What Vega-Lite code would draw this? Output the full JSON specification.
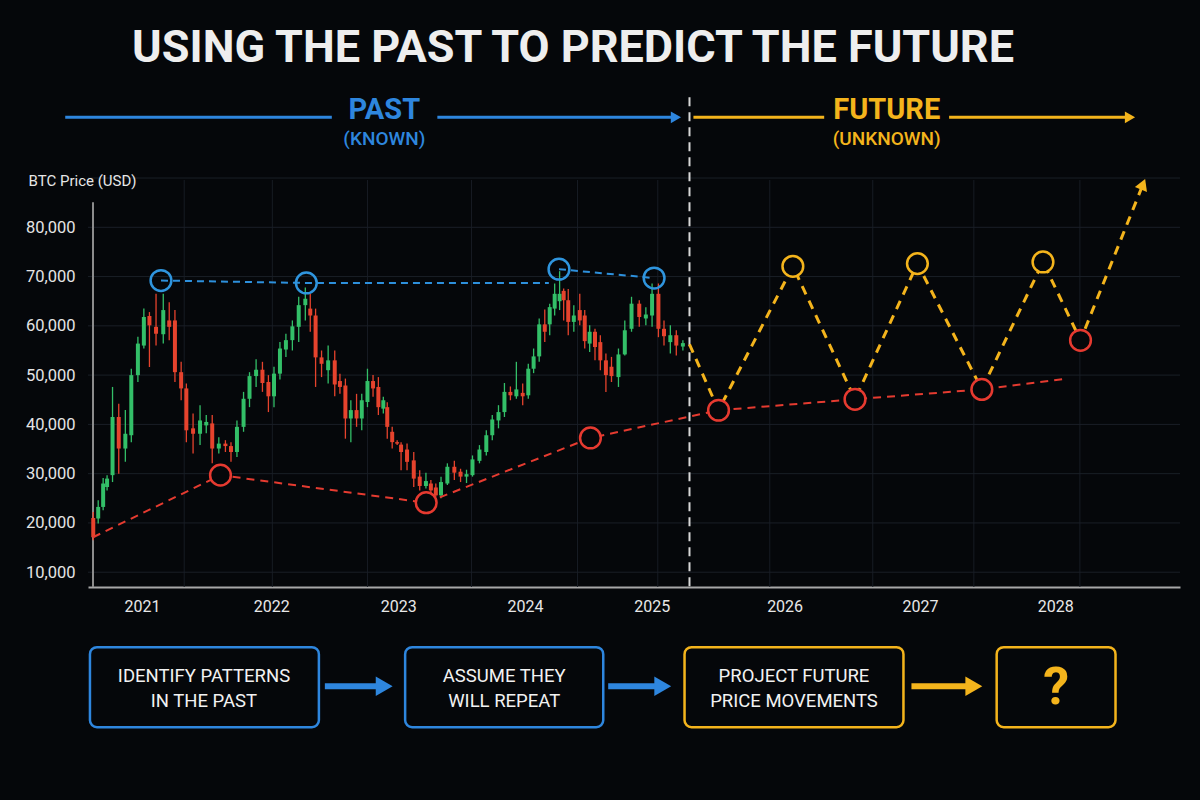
{
 "$schema": "https://vega.github.io/schema/vega-lite/v6.json",
 "width": 1092,
 "height": 407,
 "autosize": {"type": "none"},
 "padding": {"left": 88, "top": 180, "right": 20, "bottom": 213},
 "background": "#05070a",
 "config": {"view": {"stroke": null}, "font": "Roboto"},
 "datasets": {
  "vgrid": [{"t": 2021.313}, {"t": 2022.008}, {"t": 2022.758}, {"t": 2023.578}, {"t": 2024.414}, {"t": 2025.047}, {"t": 2025.93}, {"t": 2026.742}, {"t": 2027.539}, {"t": 2028.375}],
  "hgrid": [{"p": 10000}, {"p": 20000}, {"p": 30000}, {"p": 40000}, {"p": 50000}, {"p": 60000}, {"p": 70000}, {"p": 80000}, {"p": 90000}],
  "candles": [
   {"t": 2020.596, "o": 21000, "h": 22200, "l": 16500, "c": 17100},
   {"t": 2020.635, "o": 20900, "h": 24600, "l": 19900, "c": 23250},
   {"t": 2020.674, "o": 23250, "h": 29100, "l": 22600, "c": 28000},
   {"t": 2020.705, "o": 27300, "h": 29700, "l": 26600, "c": 29000},
   {"t": 2020.748, "o": 29700, "h": 47600, "l": 28300, "c": 41500},
   {"t": 2020.797, "o": 41500, "h": 44200, "l": 30000, "c": 35100},
   {"t": 2020.849, "o": 35100, "h": 42900, "l": 32400, "c": 38100},
   {"t": 2020.896, "o": 37800, "h": 51300, "l": 36400, "c": 50000},
   {"t": 2020.948, "o": 50000, "h": 57800, "l": 48600, "c": 56400},
   {"t": 2020.995, "o": 56000, "h": 63500, "l": 55400, "c": 61800},
   {"t": 2021.039, "o": 62000, "h": 62800, "l": 51650, "c": 60100},
   {"t": 2021.091, "o": 59800, "h": 66500, "l": 56000, "c": 58400},
   {"t": 2021.148, "o": 58300, "h": 66500, "l": 56400, "c": 63200},
   {"t": 2021.195, "o": 61100, "h": 64800, "l": 57100, "c": 59800},
   {"t": 2021.24, "o": 61100, "h": 63200, "l": 48600, "c": 50600},
   {"t": 2021.289, "o": 50600, "h": 52700, "l": 44900, "c": 47300},
   {"t": 2021.33, "o": 47300, "h": 48300, "l": 36400, "c": 38800},
   {"t": 2021.383, "o": 39200, "h": 42200, "l": 34100, "c": 38100},
   {"t": 2021.438, "o": 38100, "h": 43900, "l": 35800, "c": 40800},
   {"t": 2021.487, "o": 39800, "h": 41900, "l": 38200, "c": 40500},
   {"t": 2021.534, "o": 40200, "h": 41900, "l": 32100, "c": 35100},
   {"t": 2021.586, "o": 35100, "h": 37400, "l": 34100, "c": 36100},
   {"t": 2021.638, "o": 36100, "h": 36800, "l": 34400, "c": 35600},
   {"t": 2021.682, "o": 35600, "h": 36400, "l": 32400, "c": 34400},
   {"t": 2021.729, "o": 34400, "h": 40800, "l": 33400, "c": 39500},
   {"t": 2021.781, "o": 39500, "h": 46600, "l": 38500, "c": 45200},
   {"t": 2021.828, "o": 45200, "h": 50600, "l": 43500, "c": 49800},
   {"t": 2021.88, "o": 49800, "h": 53200, "l": 47600, "c": 51100},
   {"t": 2021.93, "o": 51100, "h": 52700, "l": 46600, "c": 48400},
   {"t": 2021.977, "o": 48600, "h": 50000, "l": 42500, "c": 45700},
   {"t": 2022.021, "o": 45700, "h": 51700, "l": 43500, "c": 50300},
   {"t": 2022.068, "o": 50300, "h": 56700, "l": 49100, "c": 55400},
   {"t": 2022.115, "o": 55200, "h": 58400, "l": 53700, "c": 57100},
   {"t": 2022.166, "o": 57100, "h": 61100, "l": 55000, "c": 59900},
   {"t": 2022.216, "o": 59800, "h": 65900, "l": 56700, "c": 64200},
   {"t": 2022.268, "o": 64200, "h": 67800, "l": 61100, "c": 65500},
   {"t": 2022.307, "o": 63500, "h": 66500, "l": 58800, "c": 62100},
   {"t": 2022.349, "o": 62100, "h": 63500, "l": 47600, "c": 53600},
   {"t": 2022.396, "o": 53600, "h": 55000, "l": 49600, "c": 52300},
   {"t": 2022.448, "o": 51000, "h": 56000, "l": 48300, "c": 53000},
   {"t": 2022.5, "o": 53000, "h": 55000, "l": 45700, "c": 48100},
   {"t": 2022.541, "o": 48800, "h": 50300, "l": 46200, "c": 47600},
   {"t": 2022.584, "o": 47900, "h": 49300, "l": 37100, "c": 41200},
   {"t": 2022.627, "o": 41200, "h": 44900, "l": 36400, "c": 42900},
   {"t": 2022.672, "o": 42900, "h": 46200, "l": 39500, "c": 41200},
   {"t": 2022.713, "o": 41200, "h": 46200, "l": 38800, "c": 44900},
   {"t": 2022.758, "o": 44550, "h": 51300, "l": 43500, "c": 48800},
   {"t": 2022.802, "o": 48800, "h": 50000, "l": 45600, "c": 47300},
   {"t": 2022.844, "o": 47600, "h": 49600, "l": 41900, "c": 43500},
   {"t": 2022.883, "o": 43200, "h": 45600, "l": 42200, "c": 44900},
   {"t": 2022.914, "o": 43500, "h": 44500, "l": 37100, "c": 39500},
   {"t": 2022.953, "o": 38500, "h": 39500, "l": 35100, "c": 36400},
   {"t": 2022.992, "o": 36400, "h": 36800, "l": 35800, "c": 36100},
   {"t": 2023.023, "o": 35900, "h": 36400, "l": 30700, "c": 34400},
   {"t": 2023.07, "o": 34900, "h": 36100, "l": 30700, "c": 32400},
   {"t": 2023.123, "o": 32700, "h": 34400, "l": 27300, "c": 29000},
   {"t": 2023.17, "o": 29400, "h": 30700, "l": 26600, "c": 27500},
   {"t": 2023.219, "o": 27500, "h": 30200, "l": 27000, "c": 28500},
   {"t": 2023.258, "o": 28000, "h": 28700, "l": 26000, "c": 26600},
   {"t": 2023.297, "o": 27200, "h": 28000, "l": 25300, "c": 25600},
   {"t": 2023.338, "o": 25600, "h": 29400, "l": 25000, "c": 28300},
   {"t": 2023.388, "o": 28000, "h": 32100, "l": 27700, "c": 31400},
   {"t": 2023.443, "o": 31400, "h": 32600, "l": 28700, "c": 30200},
   {"t": 2023.492, "o": 30400, "h": 31000, "l": 28300, "c": 29400},
   {"t": 2023.539, "o": 29400, "h": 30800, "l": 28100, "c": 29900},
   {"t": 2023.586, "o": 29700, "h": 33700, "l": 29400, "c": 32900},
   {"t": 2023.641, "o": 32600, "h": 35800, "l": 32100, "c": 34900},
   {"t": 2023.695, "o": 34400, "h": 38800, "l": 33700, "c": 37800},
   {"t": 2023.742, "o": 37800, "h": 41900, "l": 36800, "c": 41000},
   {"t": 2023.791, "o": 40800, "h": 43900, "l": 39200, "c": 42500},
   {"t": 2023.838, "o": 42500, "h": 48400, "l": 41500, "c": 46600},
   {"t": 2023.885, "o": 46600, "h": 47700, "l": 44900, "c": 45900},
   {"t": 2023.932, "o": 45700, "h": 52700, "l": 45200, "c": 47100},
   {"t": 2023.982, "o": 46400, "h": 48300, "l": 43900, "c": 45700},
   {"t": 2024.026, "o": 45900, "h": 52300, "l": 45200, "c": 51300},
   {"t": 2024.068, "o": 51300, "h": 55400, "l": 50400, "c": 53800},
   {"t": 2024.112, "o": 53800, "h": 61500, "l": 52700, "c": 60300},
   {"t": 2024.156, "o": 60300, "h": 63300, "l": 56700, "c": 58800},
   {"t": 2024.195, "o": 60300, "h": 64500, "l": 58100, "c": 63800},
   {"t": 2024.234, "o": 63500, "h": 68600, "l": 62100, "c": 66500},
   {"t": 2024.273, "o": 65000, "h": 71100, "l": 63200, "c": 66500},
   {"t": 2024.305, "o": 67100, "h": 67600, "l": 61100, "c": 65200},
   {"t": 2024.341, "o": 65200, "h": 67500, "l": 58100, "c": 60800},
   {"t": 2024.385, "o": 60800, "h": 64200, "l": 58800, "c": 62100},
   {"t": 2024.432, "o": 63200, "h": 66500, "l": 60100, "c": 61100},
   {"t": 2024.471, "o": 62100, "h": 63200, "l": 55400, "c": 56900},
   {"t": 2024.51, "o": 56400, "h": 60100, "l": 54700, "c": 58800},
   {"t": 2024.552, "o": 58800, "h": 59400, "l": 53000, "c": 55700},
   {"t": 2024.594, "o": 56700, "h": 58100, "l": 51000, "c": 53000},
   {"t": 2024.638, "o": 53000, "h": 54400, "l": 46600, "c": 50000},
   {"t": 2024.682, "o": 51700, "h": 53700, "l": 48600, "c": 49800},
   {"t": 2024.737, "o": 49600, "h": 55400, "l": 47600, "c": 54200},
   {"t": 2024.787, "o": 54200, "h": 61100, "l": 54000, "c": 59100},
   {"t": 2024.84, "o": 59400, "h": 65900, "l": 58800, "c": 64500},
   {"t": 2024.901, "o": 64500, "h": 65200, "l": 59800, "c": 61800},
   {"t": 2024.953, "o": 61500, "h": 63800, "l": 60100, "c": 62300},
   {"t": 2025.002, "o": 62100, "h": 68600, "l": 59800, "c": 66500},
   {"t": 2025.052, "o": 66500, "h": 68600, "l": 57700, "c": 59400},
   {"t": 2025.096, "o": 59400, "h": 61100, "l": 56000, "c": 57900},
   {"t": 2025.146, "o": 56700, "h": 60100, "l": 54400, "c": 58100},
   {"t": 2025.193, "o": 58100, "h": 59100, "l": 54000, "c": 56000},
   {"t": 2025.245, "o": 55800, "h": 57100, "l": 55000, "c": 56500}
  ],
  "blueLine": [
   {"seg": "a", "t": 2021.13, "p": 69200}, {"seg": "a", "t": 2022.276, "p": 68700}, {"seg": "a", "t": 2024.188, "p": 68700},
   {"seg": "b", "t": 2024.268, "p": 71500}, {"seg": "b", "t": 2025.018, "p": 69700}
  ],
  "blueCircles": [{"t": 2021.13, "p": 69200}, {"t": 2022.276, "p": 68700}, {"t": 2024.268, "p": 71500}, {"t": 2025.018, "p": 69700}],
  "redLine": [
   {"t": 2020.594, "p": 17100}, {"t": 2021.599, "p": 29700}, {"t": 2023.221, "p": 24100}, {"t": 2024.516, "p": 37250},
   {"t": 2025.526, "p": 42870}, {"t": 2026.602, "p": 45100}, {"t": 2027.602, "p": 47100}, {"t": 2028.279, "p": 49300}
  ],
  "redCircles": [
   {"t": 2021.599, "p": 29700}, {"t": 2023.221, "p": 24100}, {"t": 2024.516, "p": 37250},
   {"t": 2025.526, "p": 42870}, {"t": 2026.602, "p": 45100}, {"t": 2027.602, "p": 47100}, {"t": 2028.38, "p": 57070}
  ],
  "yellowCircles": [{"t": 2026.112, "p": 72080}, {"t": 2027.094, "p": 72630}, {"t": 2028.084, "p": 72960}],
  "yellowLine": [
   {"t": 2025.297, "p": 56250}, {"t": 2025.526, "p": 42870}, {"t": 2026.112, "p": 72080}, {"t": 2026.602, "p": 45100},
   {"t": 2027.094, "p": 72630}, {"t": 2027.602, "p": 47100}, {"t": 2028.084, "p": 72960}, {"t": 2028.38, "p": 57070},
   {"t": 2028.873, "p": 88740}
  ]
 },
 "layer": [
  {
   "data": {"name": "vgrid"},
   "mark": {"type": "rule", "color": "#171c24", "strokeWidth": 1},
   "encoding": {
    "x": {"field": "t", "type": "quantitative",
     "scale": {"domain": [2020.594, 2029.125], "nice": false, "zero": false},
     "axis": {"title": null, "values": [2020.98, 2022, 2023, 2024, 2025, 2026.047, 2027.115, 2028.18],
      "labelExpr": "'' + round(datum.value)", "grid": false, "ticks": false, "domain": true,
      "domainColor": "#a8a8a8", "domainWidth": 2, "labelColor": "#e8e8e8", "labelFontSize": 16,
      "labelFont": "Roboto", "labelPadding": 11, "labelFlush": false}}
   }
  },
  {
   "data": {"name": "hgrid"},
   "mark": {"type": "rule", "color": "#1a1f27", "strokeWidth": 1},
   "encoding": {
    "y": {"field": "p", "type": "quantitative",
     "scale": {"domain": [7000, 89600], "nice": false, "zero": false},
     "axis": {"title": null, "values": [10000, 20000, 30000, 40000, 50000, 60000, 70000, 80000],
      "labelExpr": "format(datum.value, ',')", "grid": false, "ticks": false, "domain": false, "labelColor": "#e4e4e4",
      "labelFontSize": 16.5, "labelFont": "Roboto", "labelPadding": 13}}
   }
  },
  {
   "data": {"values": [{"t": 2020.594, "p1": 85100, "p2": 7000}]},
   "mark": {"type": "rule", "color": "#8c8c8c", "strokeWidth": 2, "clip": false},
   "encoding": {"x": {"field": "t", "type": "quantitative"}, "y": {"field": "p1", "type": "quantitative"}, "y2": {"field": "p2"}}
  },
  {
   "data": {"values": [{"t": 2025.297, "p1": 106370, "p2": 7000}]},
   "mark": {"type": "rule", "color": "#d8d8d8", "strokeWidth": 2, "strokeDash": [9, 6], "clip": false},
   "encoding": {"x": {"field": "t", "type": "quantitative"}, "y": {"field": "p1", "type": "quantitative"}, "y2": {"field": "p2"}}
  },
  {
   "data": {"name": "candles"},
   "mark": {"type": "rule", "strokeWidth": 1.3, "clip": false},
   "encoding": {
    "x": {"field": "t", "type": "quantitative"},
    "y": {"field": "l", "type": "quantitative"}, "y2": {"field": "h"},
    "color": {"condition": {"test": "datum.c >= datum.o", "value": "#33bf68"}, "value": "#e6432d"}
   }
  },
  {
   "data": {"name": "candles"},
   "mark": {"type": "bar", "size": 4, "clip": false},
   "encoding": {
    "x": {"field": "t", "type": "quantitative"},
    "y": {"field": "o", "type": "quantitative"}, "y2": {"field": "c"},
    "color": {"condition": {"test": "datum.c >= datum.o", "value": "#33bf68"}, "value": "#e6432d"}
   }
  },
  {
   "data": {"name": "redLine"},
   "mark": {"type": "line", "color": "#e53b30", "strokeWidth": 2, "strokeDash": [8, 6], "clip": false},
   "encoding": {"x": {"field": "t", "type": "quantitative"}, "y": {"field": "p", "type": "quantitative"}}
  },
  {
   "data": {"name": "blueLine"},
   "mark": {"type": "line", "color": "#2d90dc", "strokeWidth": 2, "strokeDash": [7, 5], "clip": false},
   "encoding": {"x": {"field": "t", "type": "quantitative"}, "y": {"field": "p", "type": "quantitative"}, "detail": {"field": "seg"}}
  },
  {
   "data": {"name": "yellowLine"},
   "mark": {"type": "line", "color": "#f4b41c", "strokeWidth": 3, "strokeDash": [9, 7], "clip": false},
   "encoding": {"x": {"field": "t", "type": "quantitative"}, "y": {"field": "p", "type": "quantitative"}}
  },
  {
   "data": {"name": "blueCircles"},
   "mark": {"type": "point", "shape": "circle", "filled": false, "stroke": "#2f95de", "strokeWidth": 2.5, "size": 430, "opacity": 1, "clip": false},
   "encoding": {"x": {"field": "t", "type": "quantitative"}, "y": {"field": "p", "type": "quantitative"}}
  },
  {
   "data": {"name": "redCircles"},
   "mark": {"type": "point", "shape": "circle", "filled": true, "fill": "#05070a", "stroke": "#e63a30", "strokeWidth": 2.5, "size": 430, "opacity": 1, "clip": false},
   "encoding": {"x": {"field": "t", "type": "quantitative"}, "y": {"field": "p", "type": "quantitative"}}
  },
  {
   "data": {"name": "yellowCircles"},
   "mark": {"type": "point", "shape": "circle", "filled": true, "fill": "#05070a", "stroke": "#f4b41c", "strokeWidth": 2.5, "size": 430, "opacity": 1, "clip": false},
   "encoding": {"x": {"field": "t", "type": "quantitative"}, "y": {"field": "p", "type": "quantitative"}}
  },
  {
   "data": {"values": [{"t": 2028.873, "p": 88740}]},
   "mark": {"type": "point", "shape": "triangle-up", "filled": true, "color": "#f4b41c", "size": 170, "angle": 22, "opacity": 1, "clip": false},
   "encoding": {"x": {"field": "t", "type": "quantitative"}, "y": {"field": "p", "type": "quantitative"}}
  },
  {
   "data": {"values": [{"t": 2024.379, "p": 116312, "label": "USING THE PAST TO PREDICT THE FUTURE"}]},
   "mark": {"type": "text", "font": "Roboto", "fontSize": 45, "fontWeight": "bold", "color": "#eeeeee", "align": "center", "baseline": "middle", "clip": false},
   "encoding": {"x": {"field": "t", "type": "quantitative"}, "y": {"field": "p", "type": "quantitative"}, "text": {"field": "label"}}
  },
  {
   "data": {"values": [{"t": 2020.086, "p": 89330, "label": "BTC Price (USD)"}]},
   "mark": {"type": "text", "font": "Roboto", "fontSize": 15, "color": "#e6e6e6", "align": "left", "baseline": "middle", "clip": false},
   "encoding": {"x": {"field": "t", "type": "quantitative"}, "y": {"field": "p", "type": "quantitative"}, "text": {"field": "label"}}
  },
  {
   "data": {"values": [{"t1": 2020.375, "t2": 2022.477, "p": 102313}, {"t1": 2023.309, "t2": 2025.19, "p": 102313}]},
   "mark": {"type": "rule", "color": "#2e86de", "strokeWidth": 3, "clip": false},
   "encoding": {"x": {"field": "t1", "type": "quantitative"}, "x2": {"field": "t2"}, "y": {"field": "p", "type": "quantitative"}}
  },
  {
   "data": {"values": [{"t": 2025.19, "p": 102313}]},
   "mark": {"type": "point", "shape": "triangle-right", "filled": true, "color": "#2e86de", "size": 140, "opacity": 1, "clip": false},
   "encoding": {"x": {"field": "t", "type": "quantitative"}, "y": {"field": "p", "type": "quantitative"}}
  },
  {
   "data": {"values": [{"t1": 2025.328, "t2": 2026.359, "p": 102313}, {"t1": 2027.344, "t2": 2028.77, "p": 102313}]},
   "mark": {"type": "rule", "color": "#f4b41c", "strokeWidth": 3, "clip": false},
   "encoding": {"x": {"field": "t1", "type": "quantitative"}, "x2": {"field": "t2"}, "y": {"field": "p", "type": "quantitative"}}
  },
  {
   "data": {"values": [{"t": 2028.77, "p": 102313}]},
   "mark": {"type": "point", "shape": "triangle-right", "filled": true, "color": "#f4b41c", "size": 140, "opacity": 1, "clip": false},
   "encoding": {"x": {"field": "t", "type": "quantitative"}, "y": {"field": "p", "type": "quantitative"}}
  },
  {
   "data": {"values": [{"t": 2022.891, "p": 103733, "label": "PAST"}]},
   "mark": {"type": "text", "font": "Roboto", "fontSize": 29, "fontWeight": "bold", "color": "#2e86de", "align": "center", "baseline": "middle", "clip": false},
   "encoding": {"x": {"field": "t", "type": "quantitative"}, "y": {"field": "p", "type": "quantitative"}, "text": {"field": "label"}}
  },
  {
   "data": {"values": [{"t": 2022.891, "p": 97850, "label": "(KNOWN)"}]},
   "mark": {"type": "text", "font": "Roboto", "fontSize": 19, "fontWeight": 500, "color": "#2e86de", "align": "center", "baseline": "middle", "clip": false},
   "encoding": {"x": {"field": "t", "type": "quantitative"}, "y": {"field": "p", "type": "quantitative"}, "text": {"field": "label"}}
  },
  {
   "data": {"values": [{"t": 2026.852, "p": 103733, "label": "FUTURE"}]},
   "mark": {"type": "text", "font": "Roboto", "fontSize": 29, "fontWeight": "bold", "color": "#f4b41c", "align": "center", "baseline": "middle", "clip": false},
   "encoding": {"x": {"field": "t", "type": "quantitative"}, "y": {"field": "p", "type": "quantitative"}, "text": {"field": "label"}}
  },
  {
   "data": {"values": [{"t": 2026.852, "p": 97850, "label": "(UNKNOWN)"}]},
   "mark": {"type": "text", "font": "Roboto", "fontSize": 19, "fontWeight": 500, "color": "#f4b41c", "align": "center", "baseline": "middle", "clip": false},
   "encoding": {"x": {"field": "t", "type": "quantitative"}, "y": {"field": "p", "type": "quantitative"}, "text": {"field": "label"}}
  },
  {
   "data": {"values": [{"t1": 2020.57, "t2": 2022.375, "p1": -5213, "p2": -21440}, {"t1": 2023.055, "t2": 2024.617, "p1": -5213, "p2": -21440}]},
   "mark": {"type": "rect", "fill": "#05070a", "stroke": "#2e86de", "strokeWidth": 2.5, "cornerRadius": 7, "clip": false},
   "encoding": {"x": {"field": "t1", "type": "quantitative"}, "x2": {"field": "t2"}, "y": {"field": "p1", "type": "quantitative"}, "y2": {"field": "p2"}}
  },
  {
   "data": {"values": [{"t1": 2025.258, "t2": 2026.984, "p1": -5213, "p2": -21440}, {"t1": 2027.719, "t2": 2028.656, "p1": -5213, "p2": -21440}]},
   "mark": {"type": "rect", "fill": "#05070a", "stroke": "#f4b41c", "strokeWidth": 2.5, "cornerRadius": 7, "clip": false},
   "encoding": {"x": {"field": "t1", "type": "quantitative"}, "x2": {"field": "t2"}, "y": {"field": "p1", "type": "quantitative"}, "y2": {"field": "p2"}}
  },
  {
   "data": {"values": [
    {"t": 2021.469, "p": -11100, "label": "IDENTIFY PATTERNS"}, {"t": 2021.469, "p": -16170, "label": "IN THE PAST"},
    {"t": 2023.836, "p": -11100, "label": "ASSUME THEY"}, {"t": 2023.836, "p": -16170, "label": "WILL REPEAT"},
    {"t": 2026.121, "p": -11100, "label": "PROJECT FUTURE"}, {"t": 2026.121, "p": -16170, "label": "PRICE MOVEMENTS"}
   ]},
   "mark": {"type": "text", "font": "Roboto", "fontSize": 18.5, "fontWeight": "normal", "color": "#f2f2f2", "align": "center", "baseline": "middle", "clip": false},
   "encoding": {"x": {"field": "t", "type": "quantitative"}, "y": {"field": "p", "type": "quantitative"}, "text": {"field": "label"}}
  },
  {
   "data": {"values": [{"t": 2028.1875, "p": -13530, "label": "?"}]},
   "mark": {"type": "text", "font": "Roboto", "fontSize": 52, "fontWeight": "bold", "color": "#f4b41c", "align": "center", "baseline": "middle", "clip": false},
   "encoding": {"x": {"field": "t", "type": "quantitative"}, "y": {"field": "p", "type": "quantitative"}, "text": {"field": "label"}}
  },
  {
   "data": {"values": [{"t1": 2022.422, "t2": 2022.89, "p": -13130}, {"t1": 2024.656, "t2": 2025.086, "p": -13130}]},
   "mark": {"type": "rule", "color": "#2e86de", "strokeWidth": 6, "clip": false},
   "encoding": {"x": {"field": "t1", "type": "quantitative"}, "x2": {"field": "t2"}, "y": {"field": "p", "type": "quantitative"}}
  },
  {
   "data": {"values": [{"t": 2022.89, "p": -13130}, {"t": 2025.086, "p": -13130}]},
   "mark": {"type": "point", "shape": "triangle-right", "filled": true, "color": "#2e86de", "size": 380, "opacity": 1, "clip": false},
   "encoding": {"x": {"field": "t", "type": "quantitative"}, "y": {"field": "p", "type": "quantitative"}}
  },
  {
   "data": {"values": [{"t1": 2027.047, "t2": 2027.539, "p": -13130}]},
   "mark": {"type": "rule", "color": "#f4b41c", "strokeWidth": 6, "clip": false},
   "encoding": {"x": {"field": "t1", "type": "quantitative"}, "x2": {"field": "t2"}, "y": {"field": "p", "type": "quantitative"}}
  },
  {
   "data": {"values": [{"t": 2027.539, "p": -13130}]},
   "mark": {"type": "point", "shape": "triangle-right", "filled": true, "color": "#f4b41c", "size": 380, "opacity": 1, "clip": false},
   "encoding": {"x": {"field": "t", "type": "quantitative"}, "y": {"field": "p", "type": "quantitative"}}
  }
 ]
}
